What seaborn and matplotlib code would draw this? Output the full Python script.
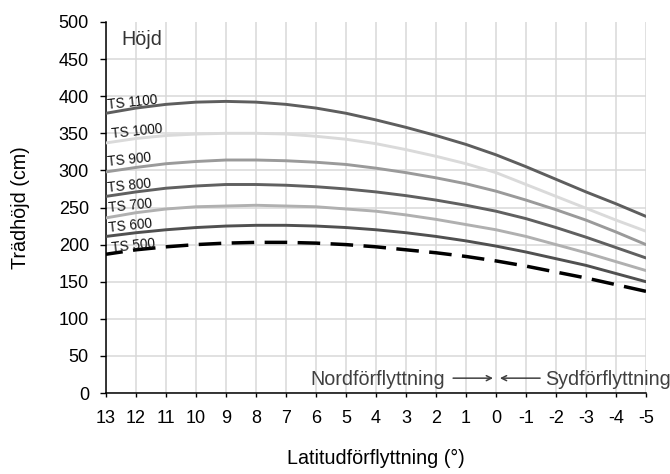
import matplotlib
matplotlib.use("Agg")
import matplotlib.pyplot as plt
import seaborn as sns
import pandas as pd

# ---- data ----
lat = [13, 12, 11, 10, 9, 8, 7, 6, 5, 4, 3, 2, 1, 0, -1, -2, -3, -4, -5]
ts1100 = [377, 384, 389, 392, 393, 392, 389, 384, 377, 368, 358, 347, 335, 321, 305, 288, 271, 255, 238]
ts1000 = [337, 343, 347, 349, 350, 350, 349, 346, 342, 336, 328, 319, 309, 297, 281, 265, 249, 233, 218]
ts900 = [298, 304, 309, 312, 314, 314, 313, 311, 308, 303, 297, 290, 282, 272, 260, 247, 233, 217, 200]
ts800 = [265, 271, 276, 279, 281, 281, 280, 278, 275, 271, 266, 260, 253, 245, 235, 223, 210, 196, 182]
ts700 = [236, 243, 248, 251, 252, 253, 252, 251, 248, 245, 240, 234, 227, 220, 211, 200, 189, 177, 165]
ts600 = [211, 216, 220, 223, 225, 226, 226, 225, 223, 220, 216, 211, 205, 198, 190, 181, 172, 161, 150]
ts500 = [187, 193, 197, 200, 202, 203, 203, 202, 200, 197, 193, 189, 184, 178, 171, 163, 155, 146, 137]

series_names = ["TS 1100", "TS 1000", "TS 900", "TS 800", "TS 700", "TS 600", "TS 500"]
series_values = [ts1100, ts1000, ts900, ts800, ts700, ts600, ts500]
x_ticks = list(range(13, -6, -1))
y_ticks = list(range(0, 501, 50))

title_text = "Höjd"
x_label = "Latitudförflyttning (°)"
y_label = "Trädhöjd (cm)"
north_text = "Nordförflyttning"
south_text = "Sydförflyttning"

# ---- styles ----
colors = ["#5e5e5e", "#dadada", "#9a9a9a", "#606060", "#b0b0b0", "#505050", "#000000"]
label_pos = [(12.13, 391), (11.97, 352), (12.23, 314), (12.23, 280), (12.2, 253), (12.2, 225), (12.1, 199)]

sns.set_theme(style="white")
plt.rcParams["font.family"] = ["Liberation Sans", "DejaVu Sans"]

fig = plt.figure(figsize=(6.7, 4.74), dpi=100)
ax = fig.add_axes([106 / 670, 1 - 393 / 474, 540 / 670, 371 / 474])

for name, vals, col in zip(series_names, series_values, colors):
    df = pd.DataFrame({"lat": lat, "h": vals})
    if name == "TS 500":
        sns.lineplot(data=df, x="lat", y="h", ax=ax, color=col, lw=2.5,
                     linestyle=(0, (6.5, 3)), zorder=3)
    else:
        sns.lineplot(data=df, x="lat", y="h", ax=ax, color=col, lw=2.1, zorder=3)

for name, (lx, ly) in zip(series_names, label_pos):
    ax.text(lx, ly, name, fontsize=9.8, rotation=6, ha="center", va="center",
            color="#111111", zorder=4)

ax.set_xlim(13, -5)
ax.set_ylim(0, 500)
ax.set_xticks(x_ticks)
ax.set_xticklabels([str(v) for v in x_ticks])
ax.set_yticks(y_ticks)
ax.set_yticklabels([str(v) for v in y_ticks])

ax.grid(True, color="#d9d9d9", lw=1.1)
ax.set_axisbelow(True)
ax.yaxis.get_gridlines()[-1].set_visible(False)

for s in ["top", "right"]:
    ax.spines[s].set_visible(False)
for s in ["left", "bottom"]:
    ax.spines[s].set_color("black")
    ax.spines[s].set_linewidth(1.1)

ax.tick_params(axis="both", which="major", direction="out", width=1.0,
               color="black", labelsize=13, labelcolor="black",
               bottom=True, left=True)
ax.tick_params(axis="y", length=4.3, pad=8)
ax.tick_params(axis="x", length=3, pad=9)

ax.set_xlabel(x_label, fontsize=14.2, color="black")
ax.set_ylabel(y_label, fontsize=14.2, color="black")
ax.xaxis.set_label_coords(0.5, -0.152)
ax.yaxis.set_label_coords(-0.14, 0.5)

ax.text(12.5, 476, title_text, fontsize=14.2, ha="left", va="center", color="#333333")

ax.text(1.7, 10.8, north_text, fontsize=14.2, ha="right", va="baseline", color="#404040", zorder=4)
ax.text(-1.633, 10.8, south_text, fontsize=14.2, ha="left", va="baseline", color="#404040",
        zorder=4, clip_on=False)
arrow_kw = dict(arrowstyle="->", color="#404040", lw=1.1, shrinkA=0, shrinkB=0,
                mutation_scale=9)
ax.annotate("", xy=(0.1, 20), xytext=(1.43, 20), arrowprops=arrow_kw, zorder=4)
ax.annotate("", xy=(-0.13, 20), xytext=(-1.47, 20), arrowprops=arrow_kw, zorder=4)

fig.savefig("out.png", dpi=100)
